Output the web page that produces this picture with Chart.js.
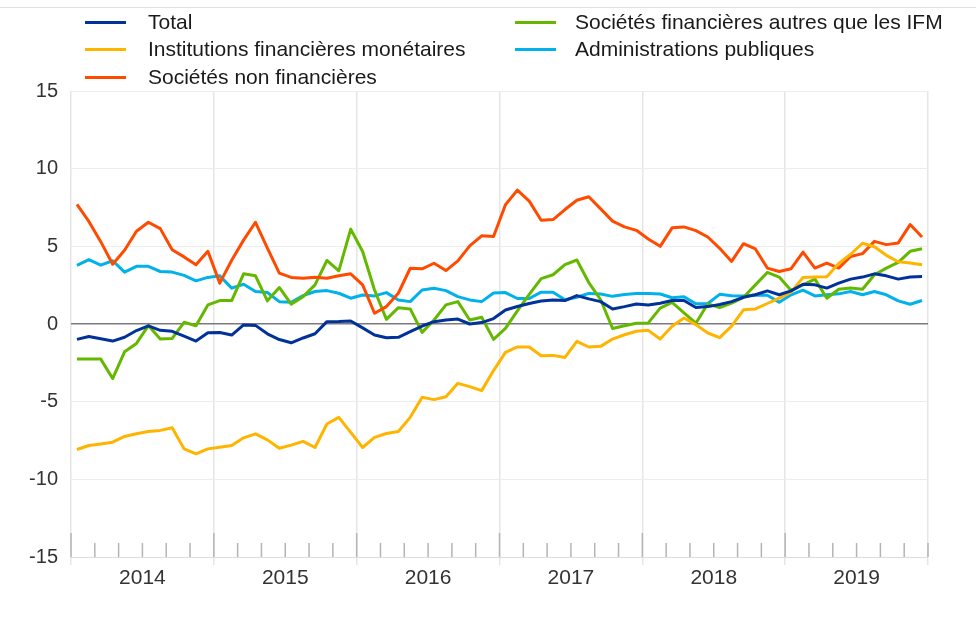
<!DOCTYPE html>
<html><head><meta charset="utf-8">
<script src="https://cdn.jsdelivr.net/npm/chart.js@4/dist/chart.umd.min.js"></script>
<style>
html,body{margin:0;padding:0;background:#fff;}
#wrap{position:relative;width:976px;height:622px;overflow:hidden;font-family:"Liberation Sans",Arial,sans-serif;background:#fff;}
#topline{position:absolute;left:0;top:7px;width:976px;height:1px;background:#e2e2e2;}
canvas{position:absolute;left:0;top:0;}
.lg{position:absolute;font-size:21px;color:#1a1a1a;line-height:24px;white-space:nowrap;}
.sw{position:absolute;height:3px;width:41px;}
</style></head><body>
<div id="wrap"><canvas id="c" width="976" height="622"></canvas><div id="topline"></div><div id="legend"></div></div>
<script>
// ---- data (monthly, Jan 2014 - Dec 2019) ----
const years = ['2014','2015','2016','2017','2018','2019'];
const seriesNames = ['Total','Institutions financières monétaires','Sociétés non financières','Sociétés financières autres que les IFM','Administrations publiques'];
const seriesColors = ['#003299','#ffb400','#ff4b00','#65b800','#00b1ea'];

const total = [-0.99,-0.8,-0.95,-1.1,-0.85,-0.42,-0.12,-0.41,-0.47,-0.78,-1.1,-0.57,-0.55,-0.71,-0.06,-0.09,-0.63,-1.0,
  -1.21,-0.9,-0.63,0.15,0.16,0.19,-0.25,-0.71,-0.88,-0.86,-0.49,-0.13,0.15,0.26,0.32,0.0,0.09,0.35,
  0.9,1.13,1.32,1.48,1.54,1.51,1.83,1.62,1.44,0.97,1.12,1.29,1.23,1.34,1.51,1.51,1.06,1.12,
  1.26,1.44,1.72,1.88,2.13,1.88,2.13,2.56,2.52,2.31,2.63,2.89,3.02,3.23,3.1,2.89,3.02,3.06];
const ifm = [-8.08,-7.82,-7.72,-7.61,-7.24,-7.07,-6.92,-6.85,-6.68,-8.04,-8.36,-8.04,-7.93,-7.82,-7.33,-7.07,-7.46,-8.0,
  -7.8,-7.56,-7.95,-6.44,-6.01,-6.98,-7.95,-7.3,-7.05,-6.92,-6.01,-4.72,-4.87,-4.68,-3.82,-4.03,-4.29,-3.0,
  -1.83,-1.48,-1.48,-2.04,-2.02,-2.15,-1.12,-1.48,-1.44,-0.97,-0.69,-0.47,-0.41,-0.97,-0.15,0.39,-0.04,-0.58,
  -0.88,-0.14,0.91,0.97,1.32,1.67,2.05,2.99,3.03,3.04,3.9,4.49,5.2,4.97,4.42,4.01,3.93,3.82];
const snf = [7.7,6.6,5.3,3.85,4.75,5.97,6.55,6.14,4.78,4.32,3.81,4.68,2.63,4.1,5.4,6.55,4.89,3.28,
  3.0,2.95,3.01,2.95,3.1,3.23,2.52,0.69,1.12,1.98,3.59,3.55,3.91,3.44,4.06,5.03,5.68,5.63,
  7.68,8.62,7.91,6.68,6.72,7.37,7.97,8.19,7.41,6.62,6.25,6.03,5.47,5.0,6.19,6.25,6.01,5.6,
  4.87,4.03,5.17,4.83,3.6,3.38,3.56,4.63,3.6,3.92,3.6,4.35,4.53,5.32,5.11,5.22,6.4,5.6];
const sfa = [-2.26,-2.26,-2.26,-3.51,-1.79,-1.25,-0.1,-0.97,-0.93,0.11,-0.11,1.23,1.51,1.51,3.23,3.1,1.49,2.35,
  1.28,1.76,2.52,4.09,3.42,6.11,4.67,2.19,0.3,1.05,0.97,-0.54,0.26,1.23,1.44,0.26,0.43,-0.99,
  -0.28,0.85,1.9,2.92,3.17,3.82,4.12,2.67,1.56,-0.29,-0.11,0.05,0.07,1.02,1.39,0.72,0.05,1.3,
  1.05,1.34,1.72,2.52,3.32,3.02,2.16,2.52,2.89,1.66,2.24,2.31,2.24,3.17,3.6,3.97,4.68,4.85];
const ap = [3.77,4.14,3.79,4.07,3.34,3.71,3.71,3.38,3.34,3.13,2.78,3.0,3.1,2.31,2.56,2.09,2.03,1.44,
  1.4,1.83,2.09,2.15,1.98,1.66,1.87,1.81,2.02,1.55,1.44,2.19,2.3,2.15,1.76,1.55,1.44,2.0,
  2.02,1.64,1.64,2.05,2.05,1.56,1.72,1.97,1.93,1.78,1.9,1.96,1.97,1.93,1.69,1.75,1.3,1.32,
  1.91,1.82,1.8,1.87,1.85,1.4,1.88,2.18,1.81,1.88,1.94,2.09,1.88,2.09,1.88,1.49,1.27,1.51];
const seriesValues = [total, ifm, snf, sfa, ap];
const yTicks = [-15,-10,-5,0,5,10,15];
const monthCount = 72;

// ---- legend (HTML) ----
const legendSlots = [[0,0],[0,1],[0,2],[1,0],[1,1]];
const colSw = [85,515], colTx = [148,575], rowY = [22,49,77];
const lg = document.getElementById('legend');
seriesNames.forEach((n,k)=>{
  const [c,r] = legendSlots[k];
  const sw = document.createElement('div'); sw.className='sw';
  sw.style.left = colSw[c]+'px'; sw.style.top = (rowY[r]-1.5)+'px'; sw.style.background = seriesColors[k];
  const tx = document.createElement('div'); tx.className='lg';
  tx.style.left = colTx[c]+'px'; tx.style.top = (rowY[r]-12)+'px'; tx.textContent = n;
  lg.appendChild(sw); lg.appendChild(tx);
});

// ---- inner tick marks plugin ----
const innerTicks = {
  id:'innerTicks',
  afterDatasetsDraw(ch){
    const xs = ch.scales.x, ys = ch.scales.y, c = ch.ctx;
    const b = ys.getPixelForValue(-15);
    c.save(); c.strokeStyle = '#b4b4b4'; c.lineWidth = 1.5;
    for(let m=0; m<=monthCount; m+=2){
      const px = xs.getPixelForValue(m);
      const L = (m%12===0 && m<monthCount) ? 24 : 14;
      c.beginPath(); c.moveTo(px,b); c.lineTo(px,b-L); c.stroke();
    }
    c.restore();
  }
};

const FONT = {family:'"Liberation Sans", Arial, sans-serif', size:21};
const YFONT = {family:'"Liberation Sans", Arial, sans-serif', size:20};
new Chart(document.getElementById('c').getContext('2d'), {
  type:'line',
  data:{datasets: seriesNames.map((n,k)=>({
    label:n,
    data: seriesValues[k].map((v,i)=>({x:i+0.5, y:v})),
    borderColor: seriesColors[k], backgroundColor: seriesColors[k],
    borderWidth:3, pointRadius:0, tension:0, fill:false, borderJoinStyle:'round'
  }))},
  options:{
    responsive:false, animation:false,
    layout:{padding:{top:91,right:48,left:0,bottom:0}},
    plugins:{legend:{display:false}, tooltip:{enabled:false}},
    scales:{
      x:{type:'linear', min:0, max:monthCount,
        afterBuildTicks:s=>{ s.ticks=[]; for(let v=0; v<=monthCount; v++) s.ticks.push({value:v}); },
        afterFit:s=>{ s.height = 65; },
        grid:{color:c=>(c.tick && c.tick.value%12===0)?'#e6e6e6':'rgba(0,0,0,0)', lineWidth:1.5, tickLength:8, drawTicks:true},
        border:{display:false},
        ticks:{autoSkip:false, maxRotation:0, minRotation:0, padding:1, color:'#333', font:FONT,
          callback:v=> (v%12===6) ? years[(v-6)/12] : ''}
      },
      y:{min:-15, max:15,
        afterBuildTicks:s=>{ s.ticks = yTicks.map(v=>({value:v})); },
        afterFit:s=>{ s.width = 71; },
        grid:{color:c=>(c.tick && c.tick.value===0)?'#7a7a7a':(c.tick && c.tick.value===-15?'#dcdcdc':'#ececec'),
              lineWidth:c=>(c.tick && c.tick.value===0)?1.6:1, drawTicks:false},
        border:{display:false},
        ticks:{padding:13, color:'#333', font:YFONT}
      }
    }
  },
  plugins:[innerTicks]
});
</script>
</body></html>
